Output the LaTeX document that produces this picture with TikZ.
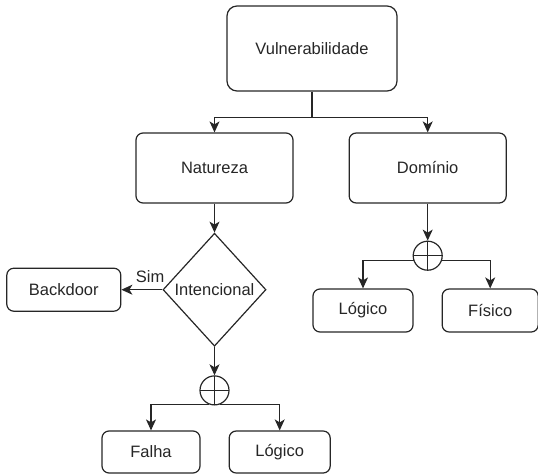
\documentclass[tikz,border=0pt]{standalone}
\usepackage{fontspec}
\setmainfont{Liberation Sans}
\usepackage{tikz}
\usetikzlibrary{arrows.meta,positioning,shapes.geometric}

\begin{document}
\begin{tikzpicture}[
  x=1pt, y=-1pt,
  font=\fontsize{16.5}{19}\selectfont,
  every node/.style={text=black!85},
  box/.style={draw=black!85, line width=1.2pt, rounded corners=7pt, minimum height=42pt, inner sep=0pt, align=center},
  cond/.style={draw=black!85, line width=1.2pt, diamond, aspect=0.91, minimum width=103pt, minimum height=113pt, inner sep=0pt},
  orbox/.style={draw=black!85, line width=1.2pt, circle, minimum size=29pt, inner sep=0pt,
    path picture={\draw[black!85, line width=1.2pt] (path picture bounding box.north) -- (path picture bounding box.south)
      (path picture bounding box.west) -- (path picture bounding box.east);}},
  arr/.style={-{Stealth[length=11pt, width=10pt, inset=3pt]}, draw=black!85, line width=1.2pt},
]
\useasboundingbox (0,0) rectangle (538,474);

\node[box, rounded corners=10pt, minimum width=170pt, minimum height=85pt] (vuln) at (312,48.5) {Vulnerabilidade};
\node[box, minimum width=157pt, minimum height=70pt] (nat) at (214.5,168) {Natureza};
\node[box, minimum width=157pt, minimum height=70pt, right=55pt of nat] (dom) {Domínio};

\node[cond, below=29pt of nat] (intenc) {Intencional};
\node[box, minimum width=114pt, minimum height=43pt, left=41pt of intenc] (back) {Backdoor};
\node[orbox, below=28.5pt of intenc] (orL) {};
\node[box, minimum width=98pt] (falha) at (151,452) {Falha};
\node[box, minimum width=101pt, right=28pt of falha] (logA) {Lógico};

\node[orbox, below=37pt of dom] (orR) {};
\node[box, minimum width=100pt, minimum height=43pt] (logB) at (363,310.5) {Lógico};
\node[box, minimum width=96pt, minimum height=43pt, right=28pt of logB] (fis) {Físico};

% root split
\draw[arr] (vuln.south) -- ++(0,26) coordinate (split) -| (nat.north);
\draw[arr] (split) -| (dom.north);

% natureza branch
\draw[arr] (nat.south) -- (intenc.north);
\draw[arr] (intenc.west) -- node[above=3pt, pos=0.3] {Sim} (back.east);
\draw[arr] (intenc.south) -- (orL.north);
\draw[arr] (orL.-112) -| (falha.north);
\draw[arr] (orL.-68) -| (logA.north);

% dominio branch
\draw[arr] (dom.south) -- (orR.north);
\draw[arr] (orR.-160) -| (logB.north);
\draw[arr] (orR.-20) -| (fis.north);
\end{tikzpicture}
\end{document}
